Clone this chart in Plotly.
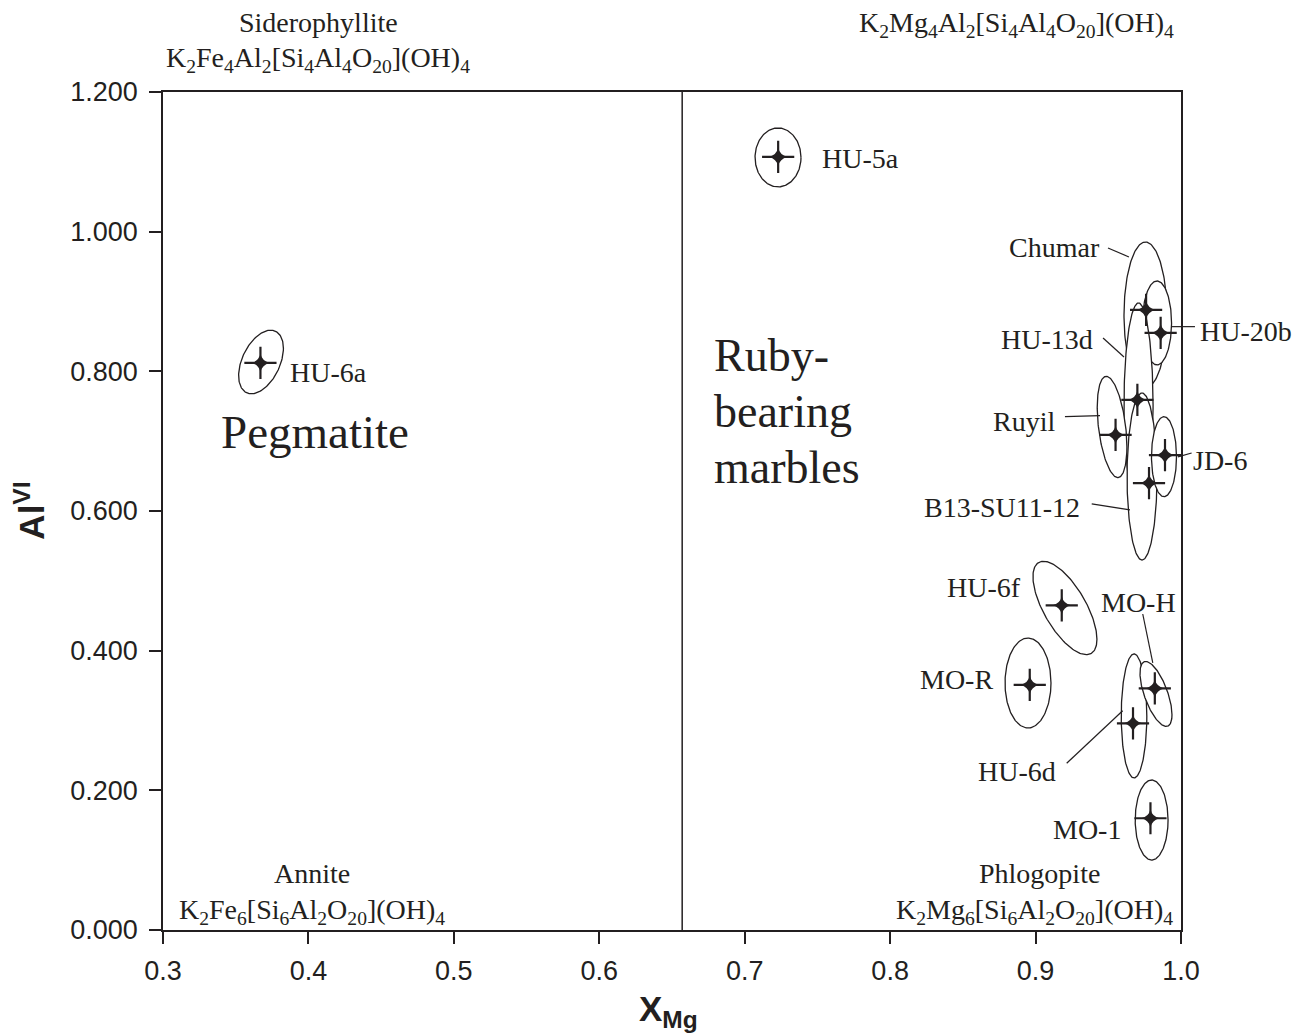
import numpy as np
import plotly.graph_objects as go

# --- Sample means (X_Mg, Al_VI) -------------------------------------------
samples = ["HU-6a", "HU-5a", "Chumar", "HU-20b", "HU-13d", "Ruyil", "B13-SU11-12",
           "JD-6", "HU-6f", "MO-R", "HU-6d", "MO-H", "MO-1"]
x_mg = [0.367, 0.723, 0.976, 0.986, 0.970, 0.955, 0.978,
        0.989, 0.918, 0.896, 0.967, 0.982, 0.979]
al_vi = [0.812, 1.107, 0.888, 0.855, 0.759, 0.709, 0.640,
         0.680, 0.465, 0.351, 0.296, 0.346, 0.160]

# --- Spread ellipses: centre, half-extent in X_Mg and Al_VI, correlation ----
ell_cx = [0.3674, 0.7229, 0.9756, 0.9835, 0.9708, 0.9526, 0.9732,
          0.9883, 0.9202, 0.8948, 0.9677, 0.9828, 0.9798]
ell_cy = [0.8134, 1.1063, 0.8807, 0.8693, 0.7518, 0.7203, 0.6494,
          0.6778, 0.4611, 0.3537, 0.3065, 0.3380, 0.1575]
ell_sx = [0.0154, 0.0158, 0.0148, 0.0100, 0.0100, 0.0102, 0.0103,
          0.0086, 0.0220, 0.0158, 0.0088, 0.0110, 0.0113]
ell_sy = [0.0455, 0.0422, 0.1045, 0.0601, 0.1461, 0.0725, 0.1196,
          0.0573, 0.0669, 0.0644, 0.0888, 0.0465, 0.0573]
ell_rho = [0.43, 0.0, 0.0, 0.0, 0.0, -0.39, 0.0,
           0.0, -0.67, 0.0, 0.0, -0.64, 0.0]

# drawing order of the ellipses (later ones cover earlier ones)
draw_order = ["HU-6a", "HU-5a", "Chumar", "HU-20b", "HU-13d", "Ruyil",
              "B13-SU11-12", "JD-6", "HU-6f", "MO-R", "HU-6d", "MO-H", "MO-1"]

# --- Axis ticks --------------------------------------------------------------
x_range = [0.3, 1.0]
y_range = [0.0, 1.2]
x_ticks = [0.3, 0.4, 0.5, 0.6, 0.7, 0.8, 0.9, 1.0]
y_ticks = [0.0, 0.2, 0.4, 0.6, 0.8, 1.0, 1.2]
x_boundary = 0.657  # pegmatite / marble divide

INK = "#231f20"
SERIF = "Liberation Serif, Times New Roman, serif"
SANS = "Liberation Sans, Arial, sans-serif"


def px(x):
    """X_Mg value -> paper fraction (lets text and leaders sit beyond the axis)."""
    return (x - x_range[0]) / (x_range[1] - x_range[0])


def py(y):
    """Al_VI value -> paper fraction."""
    return (y - y_range[0]) / (y_range[1] - y_range[0])


fig = go.Figure()

t = np.linspace(0, 2 * np.pi, 181)
for name in draw_order:
    i = samples.index(name)
    cx, cy, sx, sy, r = ell_cx[i], ell_cy[i], ell_sx[i], ell_sy[i], ell_rho[i]
    ex = cx + sx * np.cos(t)
    ey = cy + sy * (r * np.cos(t) + np.sqrt(1 - r * r) * np.sin(t))
    fig.add_trace(go.Scatter(x=ex, y=ey, mode="lines", fill="toself",
                             fillcolor="white", line=dict(color=INK, width=1.3),
                             hoverinfo="skip", showlegend=False))

# four-pointed star markers: thin cross with a concave diamond core
fig.add_trace(go.Scatter(x=x_mg, y=al_vi, mode="markers", text=samples,
                         marker=dict(symbol="cross-thin", size=23,
                                     line=dict(color=INK, width=2.2)),
                         hoverinfo="text", showlegend=False))
fig.add_trace(go.Scatter(x=x_mg, y=al_vi, mode="markers", text=samples,
                         marker=dict(symbol="star-diamond", size=13, color=INK,
                                     line=dict(width=0)),
                         hoverinfo="text", showlegend=False))

# divide between compositional fields
fig.add_shape(type="line", x0=x_boundary, x1=x_boundary, y0=0, y1=1.2,
              xref="x", yref="y", line=dict(color=INK, width=1.5))

# sample labels: (text, x, y, anchor, leader line or None)
labels = [
    ("HU-6a", 0.386, 0.798, "left", None),
    ("HU-5a", 0.7518, 1.105, "left", None),
    ("Chumar", 0.9455, 0.9767, "right", (0.9498, 0.9767, 0.9642, 0.9638)),
    ("HU-20b", 1.0117, 0.8568, "left", (0.9936, 0.864, 1.0096, 0.864)),
    ("HU-13d", 0.9409, 0.8449, "right", (0.9464, 0.8478, 0.9608, 0.8206)),
    ("Ruyil", 0.9145, 0.7279, "right", (0.9202, 0.7351, 0.9443, 0.7365)),
    ("JD-6", 1.0072, 0.673, "left", (0.9979, 0.6774, 1.0073, 0.6831)),
    ("B13-SU11-12", 0.9317, 0.6043, "right", (0.9386, 0.6101, 0.9649, 0.6015)),
    ("HU-6f", 0.8913, 0.4898, "right", None),
    ("MO-H", 0.9706, 0.4683, "center", (0.9737, 0.4525, 0.9806, 0.3824)),
    ("MO-R", 0.8721, 0.358, "right", None),
    ("HU-6d", 0.8874, 0.2267, "center", (0.9214, 0.2387, 0.9599, 0.314)),
    ("MO-1", 0.9599, 0.1432, "right", None),
]
for text, lx, ly, anchor, leader in labels:
    fig.add_annotation(xref="paper", yref="paper", x=px(lx), y=py(ly), text=text,
                       showarrow=False, xanchor=anchor, yanchor="middle",
                       font=dict(family=SERIF, size=28, color=INK))
    if leader:
        fig.add_shape(type="line", xref="paper", yref="paper",
                      x0=px(leader[0]), y0=py(leader[1]), x1=px(leader[2]), y1=py(leader[3]),
                      line=dict(color=INK, width=1.2))

# field names
fig.add_annotation(xref="paper", yref="paper", x=px(0.3385), y=py(0.713), text="Pegmatite",
                   showarrow=False, xanchor="left", yanchor="middle",
                   font=dict(family=SERIF, size=47, color=INK))
for line, ly in [("Ruby-", 0.822), ("bearing", 0.742), ("marbles", 0.662)]:
    fig.add_annotation(xref="paper", yref="paper", x=px(0.6775), y=py(ly), text=line,
                       showarrow=False, xanchor="left", yanchor="middle",
                       font=dict(family=SERIF, size=46, color=INK))

# end-member compositions
end_members = [
    ("Siderophyllite", 0.4066, 1.300),
    ("K<sub>2</sub>Fe<sub>4</sub>Al<sub>2</sub>[Si<sub>4</sub>Al<sub>4</sub>O<sub>20</sub>](OH)<sub>4</sub>", 0.4066, 1.246),
    ("K<sub>2</sub>Mg<sub>4</sub>Al<sub>2</sub>[Si<sub>4</sub>Al<sub>4</sub>O<sub>20</sub>](OH)<sub>4</sub>", 0.8869, 1.296),
    ("Annite", 0.4025, 0.0816),
    ("K<sub>2</sub>Fe<sub>6</sub>[Si<sub>6</sub>Al<sub>2</sub>O<sub>20</sub>](OH)<sub>4</sub>", 0.4025, 0.0262),
    ("Phlogopite", 0.903, 0.0816),
    ("K<sub>2</sub>Mg<sub>6</sub>[Si<sub>6</sub>Al<sub>2</sub>O<sub>20</sub>](OH)<sub>4</sub>", 0.8996, 0.0262),
]
for text, ex_, ey_ in end_members:
    fig.add_annotation(xref="paper", yref="paper", x=px(ex_), y=py(ey_), text=text,
                       showarrow=False, xanchor="center", yanchor="middle",
                       font=dict(family=SERIF, size=28, color=INK))

# axis titles
fig.add_annotation(xref="paper", yref="paper", x=-0.131, y=0.5, text="<b>Al<sup>VI</sup></b>",
                   textangle=-90, showarrow=False, xanchor="center", yanchor="middle",
                   font=dict(family=SANS, size=35, color=INK))
fig.add_annotation(xref="paper", yref="paper", x=0.497, y=-0.097, text="<b>X<sub>Mg</sub></b>",
                   showarrow=False, xanchor="center", yanchor="middle",
                   font=dict(family=SANS, size=35, color=INK))

axis_common = dict(showline=True, linecolor=INK, linewidth=1.5, mirror=True,
                   ticks="outside", ticklen=12, tickwidth=1.5, tickcolor=INK,
                   showgrid=False, zeroline=False,
                   tickfont=dict(family=SANS, size=27, color=INK))
fig.update_xaxes(range=x_range, tickvals=x_ticks, tickformat=".1f",
                 ticklabelstandoff=4, **axis_common)
fig.update_yaxes(range=y_range, tickvals=y_ticks, tickformat=".3f",
                 ticklabelstandoff=6, **axis_common)

fig.update_layout(width=1302, height=1034, plot_bgcolor="white", paper_bgcolor="white",
                  margin=dict(l=163, r=121, t=92, b=104), showlegend=False)

fig.write_html("out.html")
